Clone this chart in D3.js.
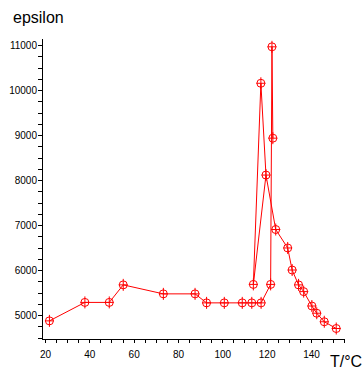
<!DOCTYPE html>
<html>
<head>
<meta charset="utf-8">
<script src="https://cdn.jsdelivr.net/npm/d3@7"></script>
<style>
  html, body { margin: 0; padding: 0; background: #fff; }
  svg { display: block; }
  text { font-family: "Liberation Sans", Arial, Helvetica, sans-serif; }
</style>
</head>
<body>
<svg id="chart" width="363" height="374"></svg>
<script>
// First run (temperature in °C, epsilon)
const temps1 = [22, 38, 49, 55.3, 73.4, 87.7, 92.9, 100.9, 109, 113.3, 117.5, 121.8, 122.4, 122.8];
const eps1   = [4870, 5280, 5280, 5670, 5470, 5470, 5270, 5270, 5270, 5270, 5270, 5680, 10960, 8930];
// Second run through the transition and above
const temps2 = [119.7, 114, 117.4, 119.7, 124.1, 129.5, 131.5, 134.4, 136.7, 140.4, 142.6, 146, 151.4];
const eps2   = [8110, 5680, 10150, 8110, 6900, 6490, 6000, 5670, 5520, 5200, 5040, 4850, 4700];

const xMajor = [20, 40, 60, 80, 100, 120, 140];
const xMinor = d3.range(20, 156, 5);
const yMajor = [5000, 6000, 7000, 8000, 9000, 10000, 11000];
const yMinor = d3.range(4500, 11001, 250);

const xLabel = "T/°C";
const yLabel = "epsilon";

const svg = d3.select("#chart");
const mLeft = 42, mRight = 344, mTop = 38, mBottom = 339;

const x = d3.scaleLinear().domain([18.65, 154.9]).range([mLeft, mRight]);
const y = d3.scaleLinear().domain([4467, 11156]).range([mBottom, mTop]);

// axes
const gx = svg.append("g").attr("transform", `translate(0,${mBottom})`);
gx.call(d3.axisBottom(x).tickValues(xMinor).tickSize(4).tickSizeOuter(0).tickFormat(""));
const gxl = svg.append("g").attr("transform", `translate(0,${mBottom})`);
gxl.call(d3.axisBottom(x).tickValues(xMajor).tickSize(4).tickSizeOuter(0).tickPadding(8).tickFormat(d3.format("d")));
gxl.select(".domain").remove();

const gy = svg.append("g").attr("transform", `translate(${mLeft},0)`);
gy.call(d3.axisLeft(y).tickValues(yMinor).tickSize(4).tickSizeOuter(0).tickFormat(""));
const gyl = svg.append("g").attr("transform", `translate(${mLeft},0)`);
gyl.call(d3.axisLeft(y).tickValues(yMajor).tickSize(4).tickSizeOuter(0).tickPadding(1).tickFormat(d3.format("d")));
gyl.select(".domain").remove();

svg.selectAll(".domain").attr("stroke", "#000").attr("stroke-width", 1).attr("shape-rendering", "crispEdges");
svg.selectAll(".tick line").attr("stroke", "#000").attr("shape-rendering", "crispEdges");
svg.selectAll(".tick text").attr("font-size", 10).attr("fill", "#000")
   .style("font-family", '"Liberation Sans", Arial, sans-serif');

// titles
svg.append("text").attr("x", 13).attr("y", 23).attr("font-size", 16).attr("fill", "#000").text(yLabel);
svg.append("text").attr("x", 330).attr("y", 367).attr("font-size", 16).attr("fill", "#000").text(xLabel);

// data
const series = [
  temps1.map((t, i) => [t, eps1[i]]),
  temps2.map((t, i) => [t, eps2[i]])
];

const line = d3.line().x(d => x(d[0])).y(d => y(d[1]));
const plot = svg.append("g");
series.forEach(s => {
  plot.append("path").attr("d", line(s)).attr("fill", "none")
      .attr("stroke", "#ff0000").attr("stroke-width", 1);
});

// one marker per distinct point
const seen = new Set();
const allPts = series.flat().filter(d => {
  const k = d[0] + "," + d[1];
  if (seen.has(k)) return false;
  seen.add(k); return true;
});
const mk = plot.selectAll("g.mk").data(allPts).join("g").attr("class", "mk")
  .attr("transform", d => `translate(${x(d[0])},${y(d[1])})`);
mk.append("circle").attr("r", 4).attr("fill", "none").attr("stroke", "#ff0000").attr("stroke-width", 1);
mk.append("line").attr("x1", -4.5).attr("x2", 4.5).attr("y1", 0).attr("y2", 0).attr("stroke", "#ff0000");
mk.append("line").attr("x1", 0).attr("x2", 0).attr("y1", -6).attr("y2", 6).attr("stroke", "#ff0000");
</script>
</body>
</html>
